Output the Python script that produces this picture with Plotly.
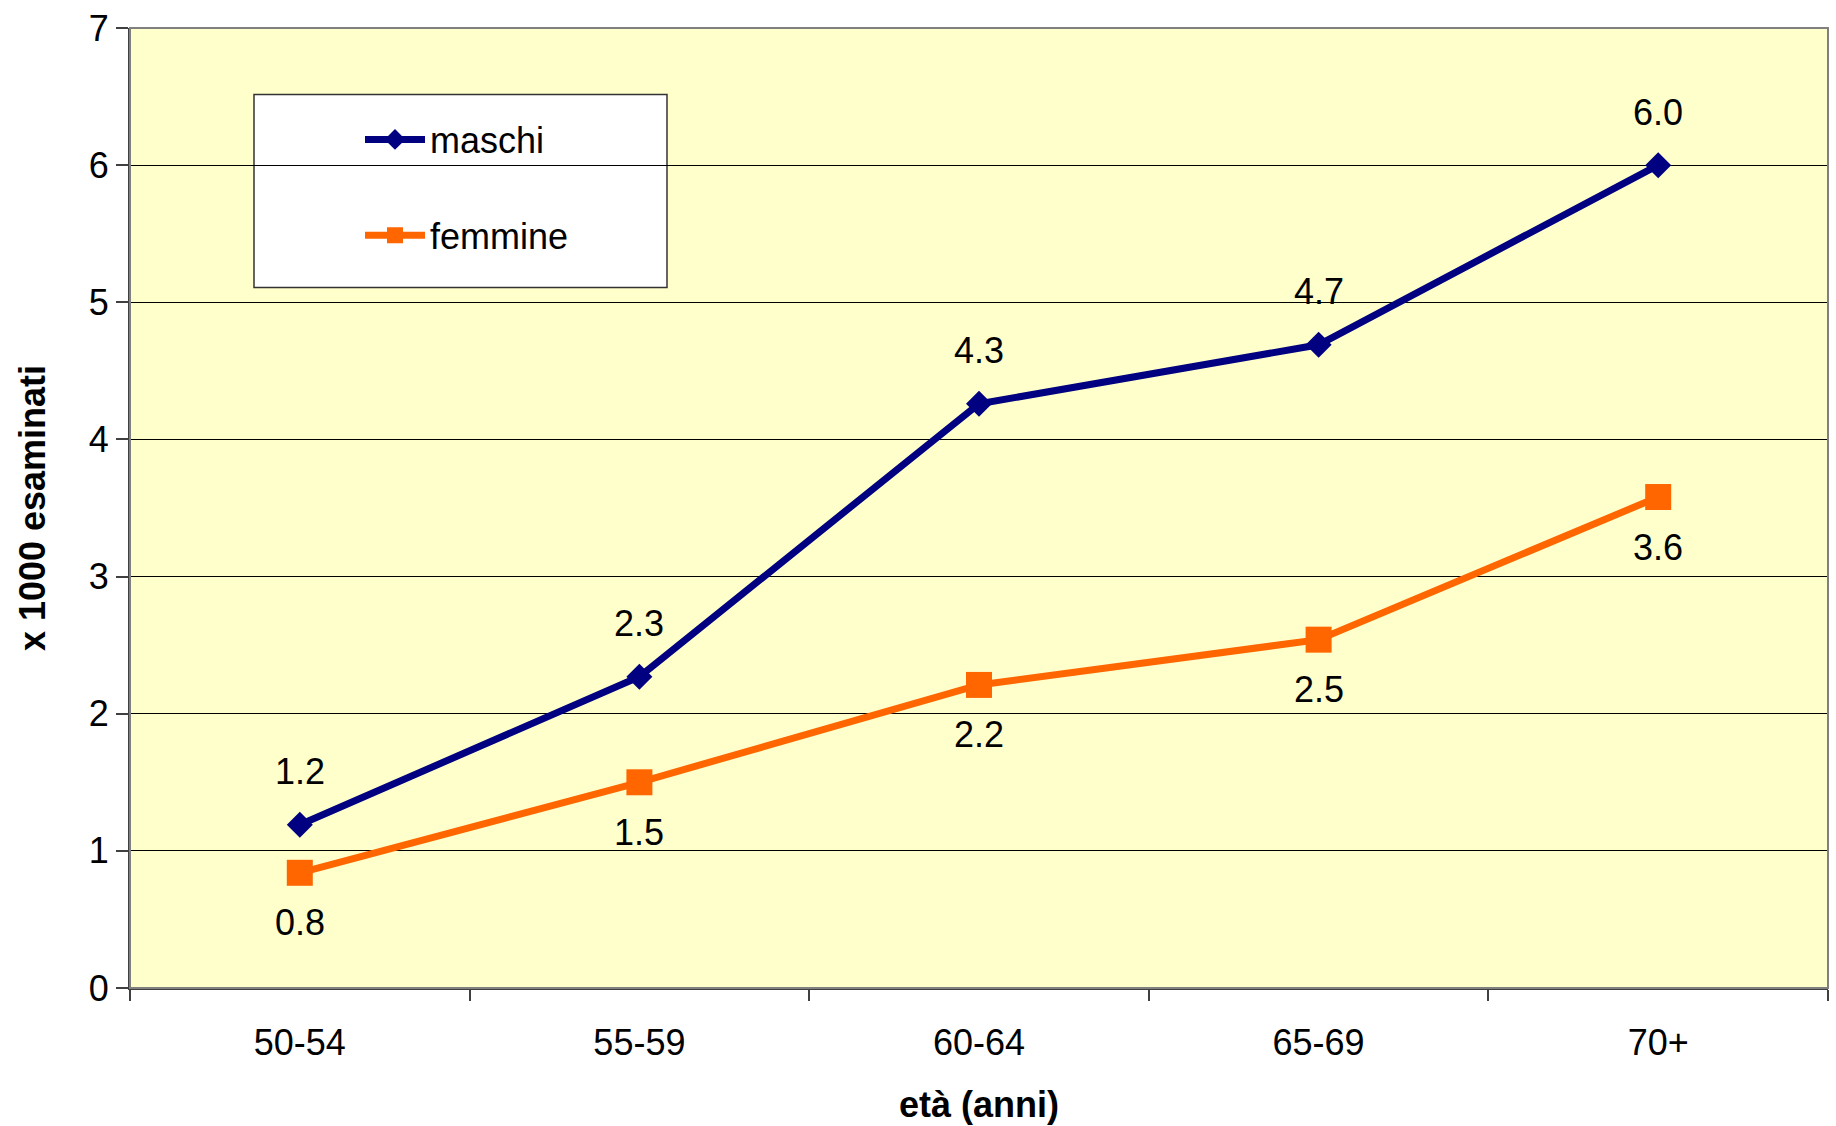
import plotly.graph_objects as go

categories = ["50-54", "55-59", "60-64", "65-69", "70+"]
maschi = [1.19, 2.27, 4.26, 4.69, 6.0]
femmine = [0.84, 1.5, 2.21, 2.54, 3.58]
y_ticks = [0, 1, 2, 3, 4, 5, 6, 7]

FONT = "Liberation Sans, Arial, sans-serif"
NAVY = "#000080"
ORANGE = "#FF6600"

W, H = 1836, 1126
ML, MR, MT, MB = 130, 8, 22, 138
PW, PH = W - ML - MR, H - MT - MB


def px_x(x):
    return (x - ML) / PW


def px_y(y):
    return (H - MB - y) / PH


fig = go.Figure()
fig.add_trace(go.Scatter(
    x=categories, y=maschi, name="maschi", legendgroup="m",
    mode="lines+markers",
    line=dict(color=NAVY, width=7),
    marker=dict(symbol="diamond", size=20, color=NAVY),
    cliponaxis=False,
))
fig.add_trace(go.Scatter(
    x=categories, y=femmine, name="femmine", legendgroup="f",
    mode="lines+markers",
    line=dict(color=ORANGE, width=7),
    marker=dict(symbol="square", size=26, color=ORANGE),
    cliponaxis=False,
))

# data labels
for c, v in zip(categories, maschi):
    fig.add_annotation(x=c, y=v, text=f"{v:.1f}", showarrow=False, yshift=53,
                       font=dict(family=FONT, size=36, color="black"))
for c, v in zip(categories, femmine):
    fig.add_annotation(x=c, y=v, text=f"{v:.1f}", showarrow=False, yshift=-50,
                       font=dict(family=FONT, size=36, color="black"))

# legend frame
fig.add_shape(type="rect", xref="paper", yref="paper",
              x0=px_x(254), x1=px_x(667), y0=px_y(283), y1=px_y(89),
              fillcolor="white", line=dict(color="#333333", width=1.5),
              layer="between")
# plot area border
fig.add_shape(type="rect", xref="paper", yref="paper", x0=0, x1=1, y0=0, y1=1,
              line=dict(color="#808080", width=2), layer="above")

fig.update_layout(
    width=W, height=H,
    margin=dict(l=ML, r=MR, t=MT, b=MB),
    paper_bgcolor="white",
    plot_bgcolor="#FFFFCC",
    font=dict(family=FONT, size=36, color="black"),
    showlegend=True,
    legend=dict(
        x=px_x(360), y=px_y(104),
        xanchor="left", yanchor="top",
        bgcolor="rgba(0,0,0,0)", borderwidth=0,
        traceorder="grouped", tracegroupgap=46,
        itemwidth=60,
        font=dict(family=FONT, size=36, color="black"),
    ),
    xaxis=dict(
        type="category", range=[-0.5, 4.5],
        tickson="boundaries", ticks="outside", ticklen=11, tickcolor="#404040", tickwidth=1.5,
        showline=True, linecolor="#404040", linewidth=2,
        showgrid=False, tickfont=dict(family=FONT, size=36),
        ticklabelstandoff=22,
        title=dict(text="<b>età (anni)</b>", font=dict(family=FONT, size=36), standoff=30),
    ),
    yaxis=dict(
        range=[0, 7], tickvals=y_ticks, ticks="outside", ticklen=12, tickcolor="#404040", tickwidth=1.5,
        showline=True, linecolor="#404040", linewidth=2,
        showgrid=True, gridcolor="black", gridwidth=1, zeroline=False,
        tickfont=dict(family=FONT, size=36),
        title=dict(text="<b>x 1000 esaminati</b>", font=dict(family=FONT, size=36), standoff=32),
    ),
)

fig.write_html("out.html")
